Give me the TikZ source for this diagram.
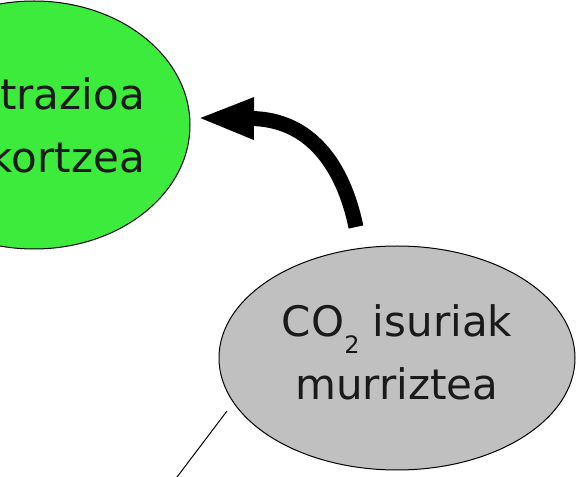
\documentclass[tikz,border=0pt]{standalone}
\usepackage{fontspec}
\setmainfont{DejaVu Sans}
\usetikzlibrary{shapes.geometric,arrows.meta}
\definecolor{leafgreen}{HTML}{3DEB3D}
\definecolor{stonegray}{HTML}{C0C0C0}
\definecolor{ink}{HTML}{1A1A1A}
\begin{document}
\begin{tikzpicture}[x=0.75pt,y=-0.75pt,
  bubble/.style={ellipse, draw=black, line width=0.75pt, inner sep=0pt},
  bubbletext/.style={text=ink, font=\fontsize{31.5}{47.25}\selectfont, inner sep=0pt},
  bigarrow/.style={line width=11.25pt, -{Triangle[length=42.75pt,width=28.5pt]}},
  thinlink/.style={line width=0.75pt}]
\useasboundingbox (0,0) rectangle (576,477);
% goal bubble, partly outside the frame
\node[bubble, fill=leafgreen, minimum width=234pt, minimum height=186pt] (goal) at (34,125) {};
\node[bubbletext, align=right, anchor=east] (goaltext) at (145,125.5) {trazioa\\kortzea};
% emissions bubble
\node[bubble, fill=stonegray, minimum width=267pt, minimum height=168pt] (cut) at (397,358) {};
\node[bubbletext, align=center] (cuttext) at (397,352)
  {CO\raisebox{-13pt}{\fontsize{18}{18}\selectfont 2} isuriak\\murriztea};
% curved arrow from the emissions bubble towards the goal
\coordinate (arrowstart) at (356,227);
\coordinate (arrowtip) at (197,118);
\draw[bigarrow] (arrowstart) .. controls (343,165) and (310,119) .. (arrowtip);
% link leaving the lower left of the emissions bubble
\coordinate (linkstart) at (227,411);
\coordinate (linkend) at (171,485);
\draw[thinlink] (linkstart) -- (linkend);
\end{tikzpicture}
\end{document}
